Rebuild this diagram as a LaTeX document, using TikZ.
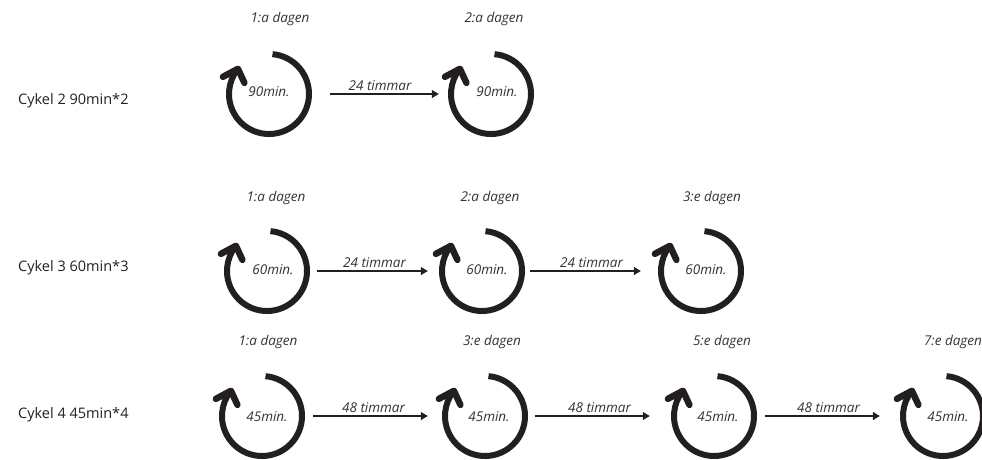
\documentclass[tikz,border=0pt]{standalone}
\usepackage{fontspec}
\setmainfont{Open Sans}
\usetikzlibrary{arrows.meta}
\definecolor{ink}{HTML}{231F20}
\definecolor{txt}{HTML}{333333}
\tikzset{
  ringnode/.style={circle,minimum size=86pt,inner sep=0pt,draw=none},
  ringline/.style={draw=ink,line width=6pt},
  inner/.style={font=\fontsize{13.5}{15}\selectfont\itshape,text=txt,inner sep=0pt},
  daylbl/.style={font=\fontsize{13.5}{15}\selectfont\itshape,text=txt,inner sep=0pt},
  rowlbl/.style={font=\fontsize{14.5}{16}\selectfont,text=ink,anchor=west,inner sep=0pt},
  conn/.style={draw=ink,line width=1.2pt,-{Triangle[length=7pt,width=8pt]}},
  connlbl/.style={font=\fontsize{13.5}{15}\selectfont\itshape,text=txt,above=3pt,inner sep=0pt}
}
\newcommand{\ringarc}[1]{%
  \draw[ringline] ([shift={(85:40)}]#1.center) arc[start angle=85,end angle=-218,radius=40];
  \draw[ringline,line width=6.5pt,line cap=round,line join=round] ([shift={(141:40)}]#1.center) ++(-15,-8) -- ++(15,8) -- ++(6.5,-14);}
\begin{document}
\begin{tikzpicture}[x=1pt,y=1pt]
\useasboundingbox (0,0) rectangle (982,-459);
% row labels
\node[rowlbl] (r1) at (18,-101) {Cykel 2 90min*2};
\node[rowlbl] (r2) at (18,-268) {Cykel 3 60min*3};
\node[rowlbl] (r3) at (18,-415) {Cykel 4 45min*4};
% row 1
\node[ringnode] (c11) at (269,-94) {};
\node[ringnode] (c12) at (491,-94) {};
\node[inner] (t11) at (269,-92) {90min.};
\node[inner] (t12) at (497,-92) {90min.};
\node[daylbl] (d11) at (280,-19) {1:a dagen};
\node[daylbl] (d12) at (494,-19) {2:a dagen};
\ringarc{c11}\ringarc{c12}
\draw[conn,shorten <=18pt,shorten >=9pt] (c11) -- node[connlbl] (e11) {24 timmar} (c12);
% row 2
\node[ringnode] (c21) at (267,-271) {};
\node[ringnode] (c22) at (482,-271) {};
\node[ringnode] (c23) at (701,-271) {};
\node[inner] (t21) at (273,-270) {60min.};
\node[inner] (t22) at (487,-270) {60min.};
\node[inner] (t23) at (706,-270) {60min.};
\node[daylbl] (d21) at (276,-198) {1:a dagen};
\node[daylbl] (d22) at (490,-198) {2:a dagen};
\node[daylbl] (d23) at (712,-198) {3:e dagen};
\ringarc{c21}\ringarc{c22}\ringarc{c23}
\draw[conn,shorten <=7pt,shorten >=11pt] (c21) -- node[connlbl] (e21) {24 timmar} (c22);
\draw[conn,shorten <=5pt,shorten >=17pt] (c22) -- node[connlbl] (e22) {24 timmar} (c23);
% row 3
\node[ringnode] (c31) at (262,-416) {};
\node[ringnode] (c32) at (485,-416) {};
\node[ringnode] (c33) at (714,-416) {};
\node[ringnode] (c34) at (943,-416) {};
\node[inner] (t31) at (267,-417) {45min.};
\node[inner] (t32) at (489,-417) {45min.};
\node[inner] (t33) at (718,-417) {45min.};
\node[inner] (t34) at (948,-417) {45min.};
\node[daylbl] (d31) at (268,-342) {1:a dagen};
\node[daylbl] (d32) at (492,-342) {3:e dagen};
\node[daylbl] (d33) at (722,-342) {5:e dagen};
\node[daylbl] (d34) at (953,-342) {7:e dagen};
\ringarc{c31}\ringarc{c32}\ringarc{c33}\ringarc{c34}
\draw[conn,shorten <=8pt,shorten >=14pt] (c31) -- node[connlbl] (e31) {48 timmar} (c32);
\draw[conn,shorten <=7pt,shorten >=21pt] (c32) -- node[connlbl] (e32) {48 timmar} (c33);
\draw[conn,shorten <=8pt,shorten >=20pt] (c33) -- node[connlbl] (e33) {48 timmar} (c34);
\end{tikzpicture}
\end{document}
